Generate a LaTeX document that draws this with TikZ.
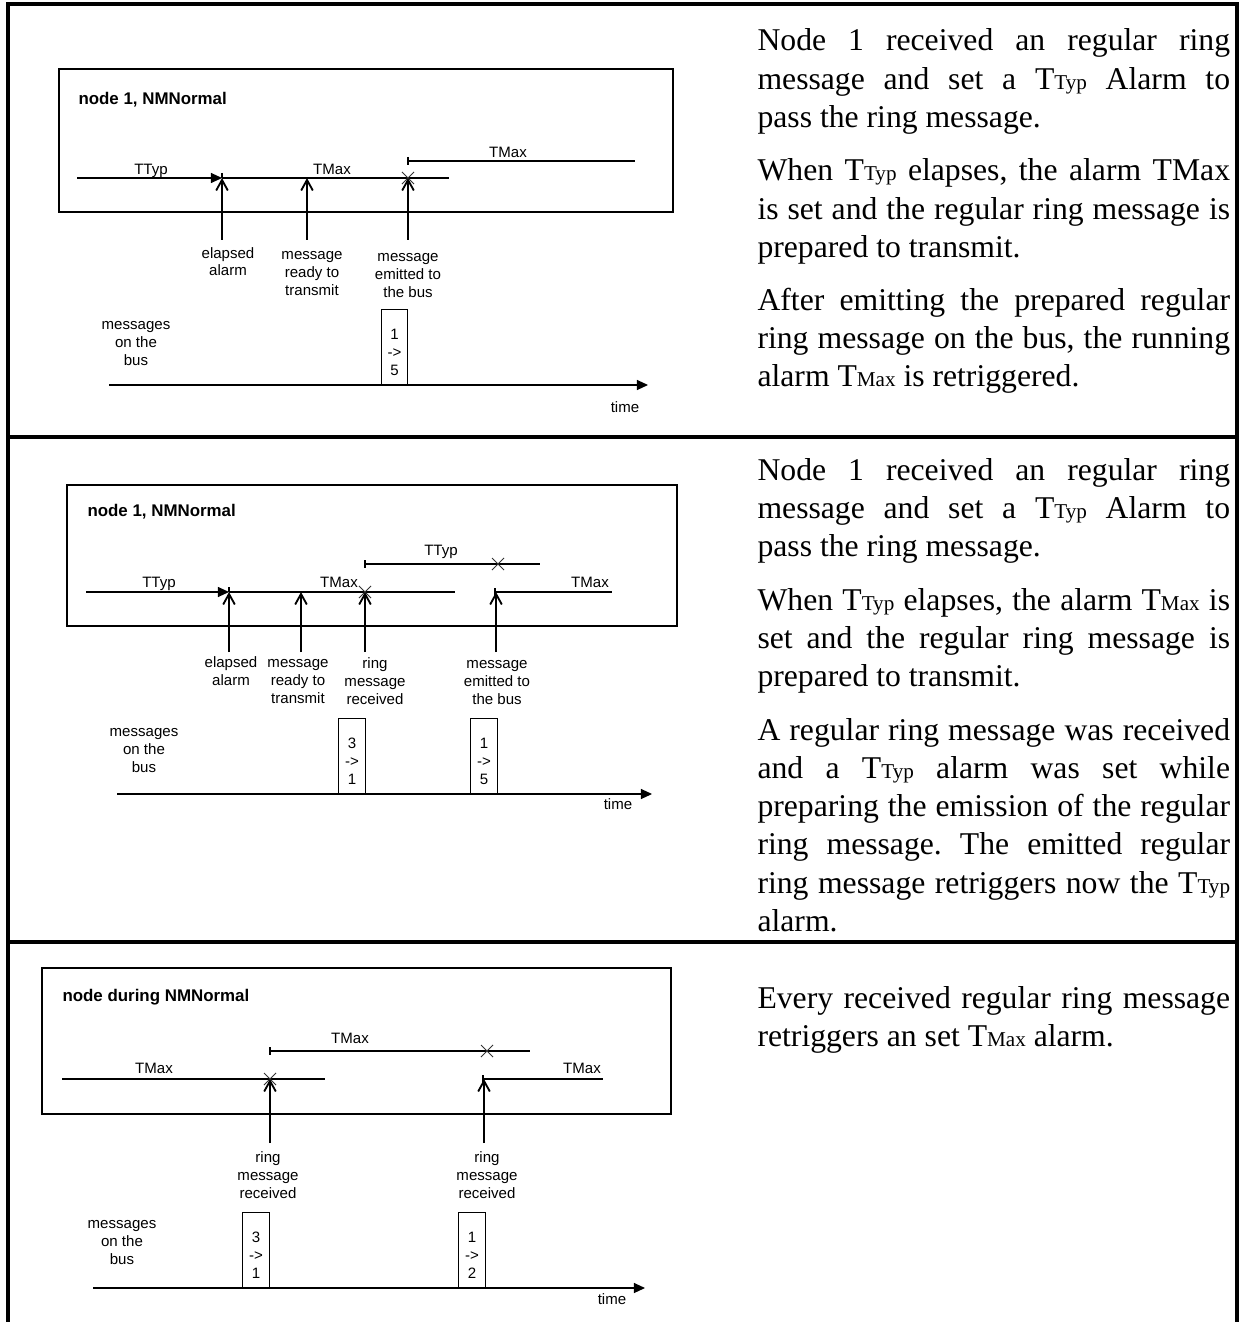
\documentclass[tikz,border=0pt]{standalone}
\usepackage{fontspec}
\setmainfont{Liberation Serif}
\setsansfont{Liberation Sans}
\usetikzlibrary{arrows.meta,shapes.misc}

\tolerance=9999
\frenchspacing
\newcommand{\TTyp}{T{\fontsize{8pt}{8pt}\selectfont Typ}}
\newcommand{\TMx}{T{\fontsize{8pt}{8pt}\selectfont Max}}

\tikzset{
  marco/.style={line width=1.5pt},
  caja/.style={draw, line width=0.8pt},
  alarma/.style={line width=0.4pt},
  vence/.style={alarma, -{Triangle[length=4.2pt,width=3.8pt]}},
  evento/.style={line width=0.45pt, -{Straight Barb[length=4pt,width=4.4pt,line width=0.7pt]}},
  eje/.style={line width=0.45pt, -{Triangle[length=4.2pt,width=3.8pt]}},
  cruz/.style={cross out, draw=black!80, line width=0.35pt, minimum size=4.2pt, inner sep=0pt},
  etiq/.style={font=\sffamily\fontsize{5.7pt}{6.8pt}\selectfont, align=center, inner sep=0pt},
  titulo/.style={font=\sffamily\bfseries\fontsize{6.4pt}{7.5pt}\selectfont, anchor=west, inner sep=0pt},
  msg/.style={draw, line width=0.4pt, etiq, minimum width=10.2pt, minimum height=28.4pt,
              text height=21.5pt, text depth=0pt, anchor=south},
  parrafo/.style={text width=179pt, align=justify, anchor=base west, inner sep=0pt, font=\fontsize{12pt}{14.5pt}\selectfont},
}

\begin{document}
\begin{tikzpicture}[x=0.3788pt, y=-0.3788pt]
        \useasboundingbox (0,0) rectangle (1239,1322);

        % Marco de la tabla
        \draw[marco] (8,1322) -- (8,4) -- (1237,4) -- (1237,1322);
        \draw[marco] (8,437) -- (1237,437);
        \draw[marco] (8,942) -- (1237,942);

        % Caso 1: nodo 1 en NMNormal
        \draw[caja] (59,69) rectangle (673,212);
        \node[titulo] (tit1) at (78,100) {node 1, NMNormal};

        \coordinate (e11) at (222,178);
        \coordinate (e12) at (307,178);
        \coordinate (e13) at (408,178);
        \draw[vence] (77,178) -- (e11);
        \draw[alarma] (222,173) -- (e11);
        \draw[alarma] (e11) -- (449,178);
        \node[cruz] (x11) at (e13) {};
        \draw[alarma] (408,157) -- (408,165);
        \draw[alarma] (408,161) -- (635,161);
        \node[etiq, anchor=base] (t11) at (151,175) {TTyp};
        \node[etiq, anchor=base] (t12) at (332,175) {TMax};
        \node[etiq, anchor=base] (t13) at (508,158) {TMax};

        \coordinate (p11) at (222,240);
        \coordinate (p12) at (307,240);
        \coordinate (p13) at (408,240);
        \draw[evento] (p11) -- (e11);
        \draw[evento] (p12) -- (e12);
        \draw[evento] (p13) -- (e13);
        \node[etiq, anchor=base] (l11) at (228,276) {elapsed\\alarm};
        \node[etiq, anchor=base] (l12) at (312,295) {message\\ready to\\transmit};
        \node[etiq, anchor=base] (l13) at (408,297) {message\\emitted to\\the bus};

        \node[etiq, anchor=base] (bus1) at (136,365) {messages\\on the\\bus};
        \node[msg] (m11) at (394.5,385) {1\\->\\5};
        \coordinate (o1) at (109,385);
        \coordinate (f1) at (648,385);
        \draw[eje] (o1) -- (f1);
        \node[etiq, anchor=base] (time1) at (625,412) {time};

        \node[parrafo] (txt11) at (757,51) {Node 1 received an regular ring\linebreak message and set a \TTyp{} Alarm to\linebreak pass the ring message.};
        \node[parrafo] (txt12) at (757,181) {When \TTyp{} elapses, the alarm TMax\linebreak is set and the regular ring message is\linebreak prepared to transmit.};
        \node[parrafo] (txt13) at (757,310) {After emitting the prepared regular\linebreak ring message on the bus, the running\linebreak alarm \TMx{} is retriggered.};

        % Caso 2: mensaje de anillo recibido mientras se prepara el propio
        \draw[caja] (67,485) rectangle (677,626);
        \node[titulo] (tit2) at (87,512) {node 1, NMNormal};

        \coordinate (e21) at (229,592);
        \coordinate (e22) at (301,592);
        \coordinate (e23) at (365,592);
        \coordinate (e24) at (496,592);
        \draw[vence] (86,592) -- (e21);
        \draw[alarma] (229,587) -- (e21);
        \draw[alarma] (e21) -- (455,592);
        \node[cruz] (x21) at (e23) {};
        \draw[alarma] (365,560) -- (365,568);
        \draw[alarma] (365,564) -- (540,564);
        \node[cruz] (x22) at (498,564) {};
        \draw[alarma] (495,588) -- (495,596);
        \draw[alarma] (495,592) -- (612,592);
        \node[etiq, anchor=base] (t21) at (159,587) {TTyp};
        \node[etiq, anchor=base] (t22) at (339,587) {TMax};
        \node[etiq, anchor=base] (t23) at (441,555) {TTyp};
        \node[etiq, anchor=base] (t24) at (590,587) {TMax};

        \coordinate (p21) at (229,652);
        \coordinate (p22) at (301,652);
        \coordinate (p23) at (365,652);
        \coordinate (p24) at (496,652);
        \draw[evento] (p21) -- (e21);
        \draw[evento] (p22) -- (e22);
        \draw[evento] (p23) -- (e23);
        \draw[evento] (p24) -- (e24);
        \node[etiq, anchor=base] (l21) at (231,685) {elapsed\\alarm};
        \node[etiq, anchor=base] (l22) at (298,703) {message\\ready to\\transmit};
        \node[etiq, anchor=base] (l23) at (375,704) {ring\\message\\received};
        \node[etiq, anchor=base] (l24) at (497,704) {message\\emitted to\\the bus};

        \node[etiq, anchor=base] (bus2) at (144,772) {messages\\on the\\bus};
        \node[msg] (m21) at (352,794) {3\\->\\1};
        \node[msg] (m22) at (484,794) {1\\->\\5};
        \coordinate (o2) at (117,794);
        \coordinate (f2) at (652,794);
        \draw[eje] (o2) -- (f2);
        \node[etiq, anchor=base] (time2) at (618,809) {time};

        \node[parrafo] (txt21) at (757,480) {Node 1 received an regular ring\linebreak message and set a \TTyp{} Alarm to\linebreak pass the ring message.};
        \node[parrafo] (txt22) at (757,610) {When \TTyp{} elapses, the alarm \TMx{} is\linebreak set and the regular ring message is\linebreak prepared to transmit.};
        \node[parrafo] (txt23) at (757,740) {A regular ring message was received\linebreak and a \TTyp{} alarm was set while\linebreak preparing the emission of the regular\linebreak ring message. The emitted regular\linebreak ring message retriggers now the \TTyp\linebreak alarm.};

        % Caso 3: cualquier nodo en NMNormal
        \draw[caja] (42,968) rectangle (671,1114);
        \node[titulo] (tit3) at (62,997) {node during NMNormal};

        \coordinate (e31) at (270,1079);
        \coordinate (e32) at (484,1079);
        \draw[alarma] (62,1079) -- (325,1079);
        \node[cruz] (x31) at (e31) {};
        \draw[alarma] (270,1047) -- (270,1055);
        \draw[alarma] (270,1051) -- (530,1051);
        \node[cruz] (x32) at (487,1051) {};
        \draw[alarma] (483,1075) -- (483,1083);
        \draw[alarma] (483,1079) -- (603,1079);
        \node[etiq, anchor=base] (t31) at (154,1073) {TMax};
        \node[etiq, anchor=base] (t32) at (350,1043) {TMax};
        \node[etiq, anchor=base] (t33) at (582,1073) {TMax};

        \coordinate (p31) at (270,1143);
        \coordinate (p32) at (484,1143);
        \draw[evento] (p31) -- (e31);
        \draw[evento] (p32) -- (e32);
        \node[etiq, anchor=base] (l31) at (268,1198) {ring\\message\\received};
        \node[etiq, anchor=base] (l32) at (487,1198) {ring\\message\\received};

        \node[etiq, anchor=base] (bus3) at (122,1264) {messages\\on the\\bus};
        \node[msg] (m31) at (256,1288) {3\\->\\1};
        \node[msg] (m32) at (472,1288) {1\\->\\2};
        \coordinate (o3) at (93,1288);
        \coordinate (f3) at (645,1288);
        \draw[eje] (o3) -- (f3);
        \node[etiq, anchor=base] (time3) at (612,1304) {time};

        \node[parrafo] (txt31) at (757,1008) {Every received regular ring message\linebreak retriggers an set \TMx{} alarm.};

\end{tikzpicture}
\end{document}
